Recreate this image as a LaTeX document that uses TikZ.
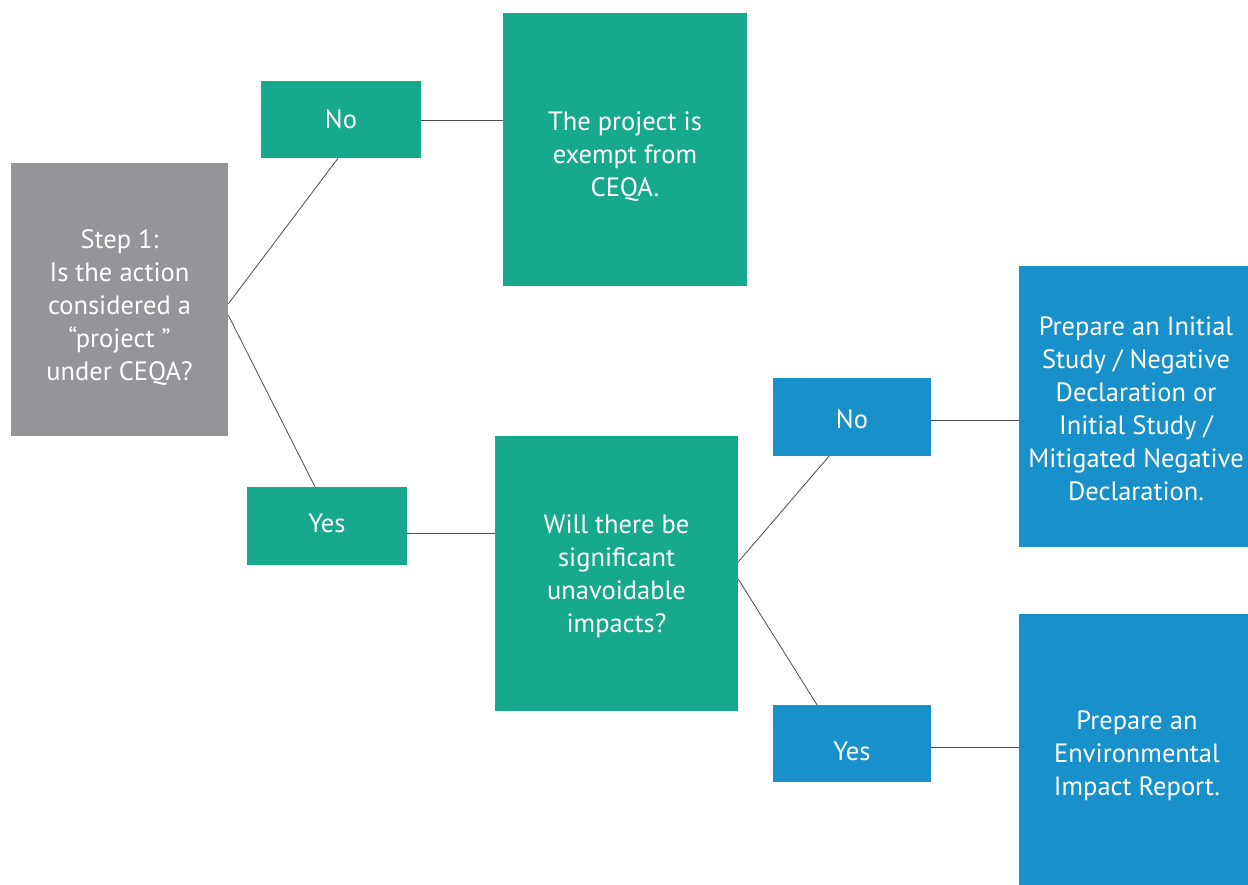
\documentclass[tikz,border=0pt]{standalone}
\usepackage{fontspec}
\setmainfont{PT Sans}
\definecolor{cgreen}{HTML}{17A98B}
\definecolor{cblue}{HTML}{1890C9}
\definecolor{cgray}{HTML}{939598}
\definecolor{cline}{HTML}{4D4D4D}
\newcommand{\boxtext}[2]{\raisebox{-#1pt}[\height][\depth]{\begin{tabular}{@{}c@{}}#2\end{tabular}}}
\begin{document}
\begin{tikzpicture}[x=1pt,y=-1pt,
  box/.style={fill=#1, text=white, inner sep=0pt,
    font=\fontsize{26.5}{33}\selectfont},
  conn/.style={draw=cline, line width=0.8pt}]
\useasboundingbox (0,0) rectangle (1248,884);
\clip (0,0) rectangle (1248,884);
\fill[white] (0,0) rectangle (1248,884);

\node[box=cgray, minimum width=217pt, minimum height=273pt] (gray) at (119.5,299.5)
  {\boxtext{8.2}{Step 1:\\Is the action\\considered a\\“project ”\\under CEQA?}};
\node[box=cgreen, minimum width=160pt, minimum height=77pt] (noA) at (341,119.5) {\boxtext{2.2}{No}};
\node[box=cgreen, minimum width=244pt, minimum height=273pt] (exempt) at (625,149.5)
  {\boxtext{7.7}{The project is\\exempt from\\CEQA.}};
\node[box=cgreen, minimum width=160pt, minimum height=78pt] (yesA) at (327,526) {\boxtext{0.2}{Yes}};
\node[box=cgreen, minimum width=243pt, minimum height=275pt] (will) at (616.5,573.5)
  {\boxtext{3.2}{Will there be\\significant\\unavoidable\\impacts?}};
\node[box=cblue, minimum width=158pt, minimum height=78pt] (noB) at (852,417) {\boxtext{4.7}{No}};
\node[box=cblue, minimum width=158pt, minimum height=77pt] (yesB) at (852,743.5) {\boxtext{10.2}{Yes}};
\node[box=cblue, minimum width=234pt, minimum height=281pt] (ind) at (1136,406.5)
  {\boxtext{4.7}{Prepare an Initial\\Study / Negative\\Declaration or\\Initial Study /\\Mitigated Negative\\Declaration.}};
\node[box=cblue, minimum width=236pt, minimum height=281pt] (eir) at (1137,754.5)
  {\boxtext{1.7}{Prepare an\\Environmental\\Impact Report.}};

\draw[conn] ([yshift=-4.5pt]gray.east) -- ([xshift=-3pt]noA.south);
\draw[conn] ([yshift=-15.5pt]gray.east) -- ([xshift=-12pt]yesA.north);
\draw[conn] ([yshift=-0.5pt]noA.east) -- ([yshift=-0.5pt]noA.east -| exempt.west);
\draw[conn] ([yshift=-7pt]yesA.east) -- ([yshift=-7pt]yesA.east -| will.west);
\draw[conn] ([yshift=11.5pt]will.east) -- ([xshift=-23pt]noB.south);
\draw[conn] ([yshift=-5.5pt]will.east) -- ([xshift=-35pt]yesB.north);
\draw[conn] ([yshift=-3pt]noB.east) -- ([yshift=-3pt]noB.east -| ind.west);
\draw[conn] ([yshift=-3.5pt]yesB.east) -- ([yshift=-3.5pt]yesB.east -| eir.west);
\end{tikzpicture}
\end{document}
